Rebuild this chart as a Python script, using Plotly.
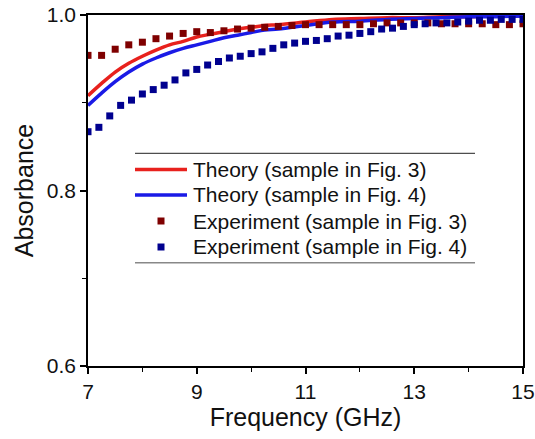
import plotly.graph_objects as go

# ---- data ----
freq_theory = [7.0, 7.25, 7.5, 7.75, 8.0, 8.25, 8.5, 8.75, 9.0, 9.25, 9.5, 9.75, 10.0,
               10.25, 10.5, 11.0, 11.5, 12.0, 12.5, 13.0, 13.5, 14.0, 14.5, 15.0]
theory_fig3 = [0.908, 0.922, 0.935, 0.945, 0.953, 0.960, 0.966, 0.970, 0.975, 0.978, 0.981,
               0.984, 0.986, 0.988, 0.989, 0.992, 0.995, 0.996, 0.997, 0.997, 0.998, 0.998,
               0.999, 0.999]
theory_fig4 = [0.897, 0.911, 0.924, 0.935, 0.944, 0.951, 0.957, 0.962, 0.966, 0.970, 0.974,
               0.977, 0.980, 0.983, 0.984, 0.988, 0.992, 0.993, 0.995, 0.996, 0.997, 0.998,
               0.998, 0.999]

freq_exp3 = [7.0, 7.25, 7.5, 7.75, 8.0, 8.25, 8.5, 8.75, 9.0, 9.25, 9.5, 9.75, 10.0, 10.25,
             10.5, 10.75, 11.0, 11.25, 11.5, 11.75, 12.0, 12.25, 12.5, 12.75, 13.0, 13.25,
             13.5, 13.75, 14.0, 14.25, 14.5, 14.75, 15.0]
exp_fig3 = [0.954, 0.954, 0.961, 0.966, 0.969, 0.973, 0.976, 0.979, 0.981, 0.980, 0.982,
            0.984, 0.985, 0.986, 0.987, 0.988, 0.989, 0.989, 0.989, 0.989, 0.989, 0.990,
            0.991, 0.991, 0.991, 0.991, 0.990, 0.990, 0.990, 0.990, 0.989, 0.989, 0.990]

freq_exp4 = [7.0, 7.2, 7.4, 7.6, 7.8, 8.0, 8.2, 8.4, 8.6, 8.8, 9.0, 9.2, 9.4, 9.6, 9.8,
             10.0, 10.2, 10.4, 10.6, 10.8, 11.0, 11.2, 11.4, 11.6, 11.8, 12.0, 12.2, 12.4,
             12.6, 12.8, 13.0, 13.2, 13.4, 13.6, 13.8, 14.0, 14.2, 14.4, 14.6, 14.8, 15.0]
exp_fig4 = [0.867, 0.872, 0.885, 0.897, 0.903, 0.910, 0.915, 0.920, 0.926, 0.934, 0.938,
            0.943, 0.947, 0.951, 0.953, 0.956, 0.958, 0.962, 0.966, 0.968, 0.970, 0.971,
            0.973, 0.976, 0.977, 0.979, 0.981, 0.984, 0.985, 0.987, 0.989, 0.990, 0.991,
            0.991, 0.992, 0.993, 0.994, 0.994, 0.995, 0.995, 0.995]

names = ["Theory (sample in Fig. 3)", "Theory (sample in Fig. 4)",
         "Experiment (sample in Fig. 3)", "Experiment (sample in Fig. 4)"]
x_ticks = [7, 9, 11, 13, 15]
y_ticks = [0.6, 0.8, 1.0]

RED, BLUE, MAROON, NAVY = "#e8211d", "#1a1ae6", "#7f0000", "#00008f"
FONT = "Liberation Sans, Arial, sans-serif"

fig = go.Figure()
fig.add_trace(go.Scatter(x=freq_theory, y=theory_fig3, mode="lines", name=names[0],
                         line=dict(color=RED, width=3.5, shape="spline")))
fig.add_trace(go.Scatter(x=freq_theory, y=theory_fig4, mode="lines", name=names[1],
                         line=dict(color=BLUE, width=3.5, shape="spline")))
fig.add_trace(go.Scatter(x=freq_exp3, y=exp_fig3, mode="markers", name=names[2],
                         marker=dict(symbol="square", size=7, color=MAROON)))
fig.add_trace(go.Scatter(x=freq_exp4, y=exp_fig4, mode="markers", name=names[3],
                         marker=dict(symbol="square", size=7, color=NAVY)))

# plot-area geometry (pixels) used to place the hand-drawn legend
L, R, T, B, W, H = 88, 12, 15, 73, 535, 439
PW, PH = W - L - R, H - T - B
def px(xp): return (xp - L) / PW
def py(yp): return (H - B - yp) / PH

shapes = [
    dict(type="line", xref="paper", yref="paper", x0=px(135), x1=px(475), y0=py(153.3), y1=py(153.3),
         line=dict(color="#222", width=1)),
    dict(type="line", xref="paper", yref="paper", x0=px(135), x1=px(475), y0=py(262.7), y1=py(262.7),
         line=dict(color="#888", width=1.5)),
]
rows = [169.5, 195, 221, 247]
syms = [("line", RED), ("line", BLUE), ("sq", MAROON), ("sq", NAVY)]
annots = []
for (kind, col), ry, nm in zip(syms, rows, names):
    if kind == "line":
        shapes.append(dict(type="line", xref="paper", yref="paper", x0=px(135), x1=px(187),
                           y0=py(ry), y1=py(ry), line=dict(color=col, width=3.5)))
    else:
        shapes.append(dict(type="rect", xref="paper", yref="paper", x0=px(157.5), x1=px(164.5),
                           y0=py(ry + 3.5), y1=py(ry - 3.5), line=dict(width=0), fillcolor=col))
    annots.append(dict(xref="paper", yref="paper", x=px(191), y=py(ry), text=nm, showarrow=False,
                       xanchor="left", yanchor="middle", font=dict(size=21, color="#111", family=FONT)))

fig.update_layout(
    width=W, height=H,
    margin=dict(l=L, r=R, t=T, b=B),
    paper_bgcolor="white", plot_bgcolor="white",
    showlegend=False,
    font=dict(family=FONT, color="#111"),
    shapes=shapes, annotations=annots,
)
fig.update_xaxes(range=[7, 15], tickvals=x_ticks, ticks="outside", ticklen=6, tickwidth=1.5,
                 showline=True, linecolor="black", linewidth=1.5, mirror=True, showgrid=False,
                 zeroline=False, tickfont=dict(size=21), tickcolor="black", automargin=False,
                 title=dict(text="Frequency (GHz)", font=dict(size=25), standoff=6),
                 minor=dict(tickvals=[8, 10, 12, 14], ticks="outside", ticklen=4, tickcolor="black",
                            tickwidth=1.2))
fig.update_yaxes(range=[0.6, 1.0], tickvals=y_ticks, tickformat=".1f", ticks="outside", ticklen=6,
                 tickwidth=1.5, showline=True, linecolor="black", linewidth=1.5, mirror=True,
                 showgrid=False, zeroline=False, tickfont=dict(size=21), tickcolor="black",
                 automargin=False,
                 title=dict(text="Absorbance", font=dict(size=25), standoff=6),
                 minor=dict(tickvals=[0.7, 0.9], ticks="outside", ticklen=4, tickcolor="black",
                            tickwidth=1.2))

fig.write_html("out.html")
